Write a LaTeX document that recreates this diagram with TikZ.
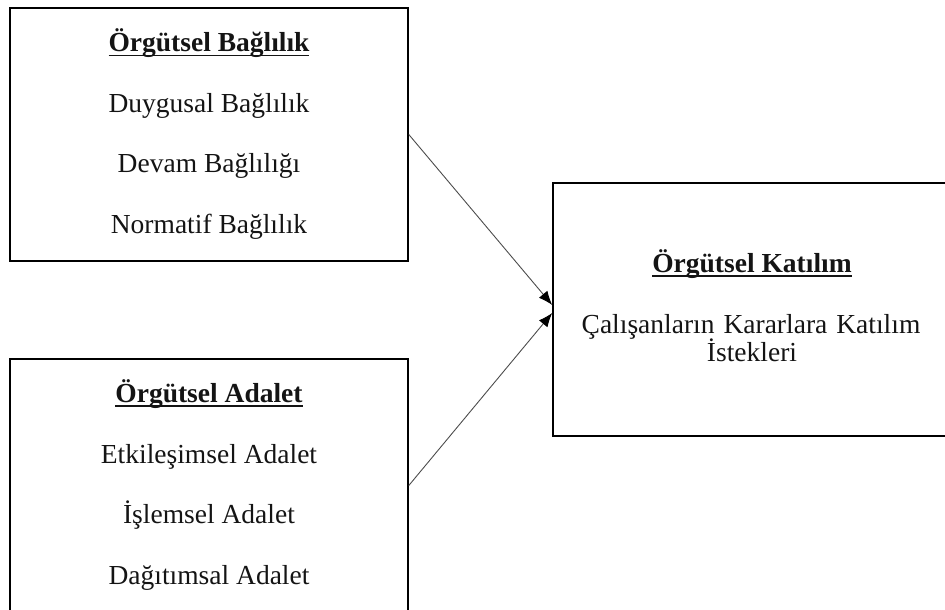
\documentclass[tikz,border=0pt]{standalone}
\usepackage{fontspec}
\setmainfont{Liberation Serif}
\usetikzlibrary{arrows.meta,calc}
% word-processor style underline: a bar just under the baseline
\newcommand\ulbar[1]{\setbox0\hbox{#1}\rlap{\rule[-5pt]{\wd0}{1.8pt}}\box0}
\begin{document}
\begin{tikzpicture}[x=1pt,y=-1pt,
  panel/.style={draw=black,line width=1.6pt,minimum width=398pt,minimum height=253pt,inner sep=0pt},
  txt/.style={anchor=base,inner sep=0pt,text=black!92,font=\fontsize{27.5}{33}\selectfont},
  head/.style={txt,font=\fontsize{27.5}{33}\selectfont\bfseries},
  link/.style={draw=black!70,line width=0.9pt,-{Latex[length=14pt,width=11pt,color=black]}}]
\useasboundingbox (0,0) rectangle (945,610);
\clip (0,0) rectangle (945,610);

% the three boxes
\node[panel] (P1) at (209,134.5) {};
\node[panel] (P2) at (209,485.5) {};
\node[panel] (P3) at (752,309.5) {};

% organisational commitment
\node[head] (h1) at (209,51.5) {\ulbar{Örgütsel Bağlılık}};
\node[txt] (a1) at (209,112) {Duygusal Bağlılık};
\node[txt] (a2) at (209,172.5) {Devam Bağlılığı};
\node[txt] (a3) at (209,233) {Normatif Bağlılık};

% organisational justice
\node[head] (h2) at (209,402) {\ulbar{Örgütsel Adalet}};
\node[txt] (b1) at (209,463) {Etkileşimsel Adalet};
\node[txt] (b2) at (209,523) {İşlemsel Adalet};
\node[txt] (b3) at (209,584) {Dağıtımsal Adalet};

% organisational participation
\node[head] (h3) at (752,272) {\ulbar{Örgütsel Katılım}};
\node[txt] (c1) at (751,333) {Çalışanların\hskip9pt Kararlara\hskip9pt Katılım};
\node[txt] (c2) at (752,361) {İstekleri};

% connectors
\draw[link] (P1.east) -- ($(P3.west)+(0,-4.5)$);
\draw[link] (P2.east) -- ($(P3.west)+(0,3.5)$);
\end{tikzpicture}
\end{document}
